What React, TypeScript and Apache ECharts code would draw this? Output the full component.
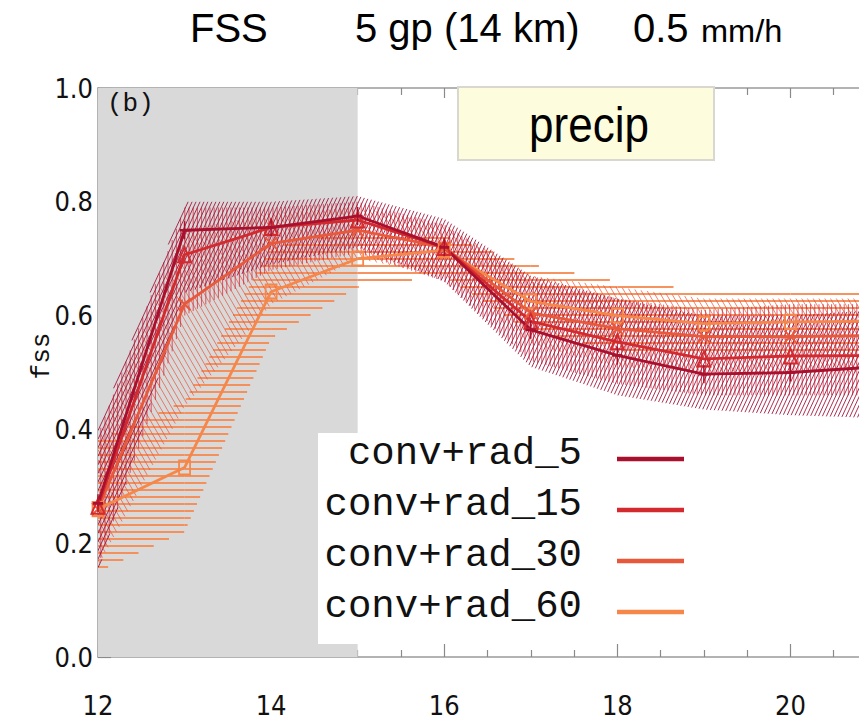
import React, { useEffect, useRef } from "react";
import * as echarts from "echarts";

// ---- data ----
const hours = [12, 13, 14, 15, 16, 17, 18, 19, 20, 21];
const seriesNames = ["conv+rad_5", "conv+rad_15", "conv+rad_30", "conv+rad_60"];

const rad5 = [0.27, 0.75, 0.755, 0.775, 0.72, 0.575, 0.53, 0.497, 0.5, 0.51];
const rad15 = [0.265, 0.707, 0.755, 0.768, 0.72, 0.59, 0.554, 0.524, 0.529, 0.53];
const rad30 = [0.26, 0.62, 0.727, 0.75, 0.72, 0.605, 0.577, 0.563, 0.563, 0.565];
const rad60 = [0.26, 0.333, 0.642, 0.7, 0.715, 0.625, 0.6, 0.586, 0.589, 0.59];

const rad5Low = [0.15, 0.64, 0.69, 0.72, 0.66, 0.51, 0.46, 0.435, 0.425, 0.42];
const rad5High = [0.4, 0.8, 0.8, 0.81, 0.77, 0.67, 0.63, 0.6, 0.6, 0.61];
const rad15Low = [0.16, 0.6, 0.68, 0.71, 0.66, 0.52, 0.48, 0.46, 0.46, 0.46];
const rad15High = [0.39, 0.79, 0.79, 0.8, 0.76, 0.66, 0.63, 0.61, 0.62, 0.62];
const rad30Low = [0.16, 0.44, 0.62, 0.7, 0.67, 0.55, 0.51, 0.5, 0.5, 0.5];
const rad30High = [0.38, 0.75, 0.78, 0.79, 0.76, 0.67, 0.65, 0.63, 0.63, 0.63];
const rad60Low = [0.15, 0.22, 0.56, 0.65, 0.67, 0.57, 0.54, 0.53, 0.53, 0.53];
const rad60High = [0.38, 0.45, 0.72, 0.75, 0.74, 0.69, 0.66, 0.645, 0.645, 0.645];

const spinupStart = 12;
const spinupEnd = 15;

const xTickInterval = 2;
const yTickInterval = 0.2;

const titleParts = ["FSS", "5 gp (14 km)", "0.5", "mm/h"];
const panelLabel = "(b)";
const boxLabel = "precip";
const yName = "fss";

// ---- styles ----
const colors = ["#a8102e", "#d32a2f", "#e8583a", "#f5874a"];
const hatchColors = [
  "rgba(160,18,58,0.88)",
  "rgba(205,35,55,0.72)",
  "rgba(230,85,60,0.72)",
  "rgba(246,135,78,0.9)",
];
const hatchDirs: number[][] = [
  [0.42, -0.907],
  [0, 1],
  [0.5, 0.866],
  [1, 0],
];
const hatchSpacing = [3.6, 4.2, 5, 7];
const hatchWidth = [1, 1, 1, 1.8];

function clipLine(P0: number[], D: number[], poly: number[][], normals: number[][]) {
  let tE = -1e5,
    tL = 1e5;
  for (let k = 0; k < poly.length; k++) {
    const Pe = poly[k];
    const n = normals[k];
    const num = n[0] * (P0[0] - Pe[0]) + n[1] * (P0[1] - Pe[1]);
    const den = n[0] * D[0] + n[1] * D[1];
    if (Math.abs(den) < 1e-9) {
      if (num < -1e-9) return null;
      continue;
    }
    const t = -num / den;
    if (den > 0) tE = Math.max(tE, t);
    else tL = Math.min(tL, t);
  }
  if (tE >= tL) return null;
  return [P0[0] + tE * D[0], P0[1] + tE * D[1], P0[0] + tL * D[0], P0[1] + tL * D[1]];
}

function hatchPath(poly: number[][], D: number[], s: number) {
  const cx = poly.reduce((a, p) => a + p[0], 0) / poly.length;
  const cy = poly.reduce((a, p) => a + p[1], 0) / poly.length;
  const normals = poly.map((A, k) => {
    const B = poly[(k + 1) % poly.length];
    let n = [-(B[1] - A[1]), B[0] - A[0]];
    if (n[0] * (cx - A[0]) + n[1] * (cy - A[1]) < 0) n = [-n[0], -n[1]];
    return n;
  });
  const N = [-D[1], D[0]];
  const cs = poly.map((p) => N[0] * p[0] + N[1] * p[1]);
  const cMin = Math.min(...cs),
    cMax = Math.max(...cs);
  let d = "";
  for (let k = Math.ceil(cMin / s); k * s <= cMax; k++) {
    const c = k * s;
    const P0 = [c * N[0], c * N[1]];
    const seg = clipLine(P0, D, poly, normals);
    if (seg) d += `M${seg[0].toFixed(1)} ${seg[1].toFixed(1)}L${seg[2].toFixed(1)} ${seg[3].toFixed(1)}`;
  }
  return d;
}

export default function App() {
  const ref = useRef<HTMLDivElement>(null);
  useEffect(() => {
    if (!ref.current) return;
    const chart = echarts.init(ref.current, null, { renderer: "svg" });

    const mains = [rad5, rad15, rad30, rad60];
    const lows = [rad5Low, rad15Low, rad30Low, rad60Low];
    const highs = [rad5High, rad15High, rad30High, rad60High];
    const symbols: any[] = [
      "path://M5,0 L5,20 M0,10 L10,10",
      "triangle",
      "path://M0,0 L10,10 M10,0 L0,10",
      "rect",
    ];
    const symbolSizes: any[] = [[10, 18], [13, 15], [12, 12], [11, 14]];

    const series: any[] = [];
    series.push({
      type: "line",
      data: [],
      z: 0,
      silent: true,
      markArea: {
        silent: true,
        itemStyle: { color: "#d9d9d9" },
        data: [[{ xAxis: spinupStart }, { xAxis: spinupEnd }]],
      },
    });
    for (let i = 3; i >= 0; i--) {
      const data = hours.slice(0, -1).map((h, j) => [
        h,
        lows[i][j],
        highs[i][j],
        hours[j + 1],
        lows[i][j + 1],
        highs[i][j + 1],
      ]);
      series.push({
        type: "custom",
        name: "band" + i,
        z: 1 + (3 - i) * 0.1,
        silent: true,
        clip: true,
        encode: { x: [0, 3], y: [1, 2, 4, 5] },
        data,
        renderItem: (params: any, api: any) => {
          const a0 = api.coord([api.value(0), api.value(2)]);
          const a1 = api.coord([api.value(3), api.value(5)]);
          const b1 = api.coord([api.value(3), api.value(4)]);
          const b0 = api.coord([api.value(0), api.value(1)]);
          const d = hatchPath([a0, a1, b1, b0], hatchDirs[i], hatchSpacing[i]);
          return {
            type: "path",
            shape: { pathData: d || "M0 0" },
            style: { stroke: hatchColors[i], lineWidth: hatchWidth[i], fill: null },
          };
        },
      });
    }
    for (let i = 3; i >= 0; i--) {
      series.push({
        type: "line",
        name: seriesNames[i],
        z: 3,
        symbol: symbols[i],
        symbolSize: symbolSizes[i],
        showAllSymbol: true,
        lineStyle: { color: colors[i], width: 2.8 },
        itemStyle: {
          color: "rgba(0,0,0,0)",
          borderColor: colors[i],
          borderWidth: 2,
        },
        data: hours.map((h, j) => [h, mains[i][j]]),
      });
    }

    const tickFont = "'DejaVu Sans Condensed', 'DejaVu Sans Mono', monospace";
    const axisCommon = {
      axisLine: { show: true, lineStyle: { color: "#9a9a9a", width: 1.5 } },
      axisTick: { show: true, inside: true, length: 13, lineStyle: { color: "#8a8a8a", width: 1.2 } },
      minorTick: { show: true, splitNumber: 4, length: 7, lineStyle: { color: "#8a8a8a", width: 1.2 } },
      splitLine: { show: false },
      minorSplitLine: { show: false },
    };

    const rowH = 51;
    const legendChildren: any[] = [
      {
        type: "rect",
        z: 60,
        shape: { x: 318, y: 433, width: 398, height: 211 },
        style: { fill: "#ffffff" },
      },
    ];
    seriesNames.forEach((n, i) => {
      legendChildren.push({
        type: "text",
        z: 61,
        x: 582,
        y: 473 + i * rowH,
        style: {
          text: n,
          font: "39px 'Liberation Mono', monospace",
          fill: "#111",
          textAlign: "right",
          textVerticalAlign: "bottom",
        },
      });
      legendChildren.push({
        type: "line",
        z: 61,
        shape: { x1: 617, y1: 459 + i * rowH, x2: 684, y2: 459 + i * rowH },
        style: { stroke: colors[i], lineWidth: 4.5 },
      });
    });

    const titleFont = "40px 'Liberation Sans', Arial, sans-serif";
    chart.setOption({
      animation: false,
      backgroundColor: "#ffffff",
      grid: { left: 98, top: 88, right: 0, bottom: 63, containLabel: false },
      xAxis: [
        {
          type: "value",
          min: 12,
          max: 21,
          interval: xTickInterval,
          ...axisCommon,
          axisLabel: {
            margin: 35,
            fontSize: 27,
            fontFamily: tickFont,
            color: "#111",
            showMaxLabel: false,
          },
        },
        {
          type: "value",
          position: "top",
          min: 12,
          max: 21,
          interval: xTickInterval,
          ...axisCommon,
          axisTick: { ...axisCommon.axisTick, length: 10 },
          axisLabel: { show: false },
        },
      ],
      yAxis: {
        type: "value",
        min: 0,
        max: 1,
        interval: yTickInterval,
        ...axisCommon,
        axisLabel: {
          margin: 5,
          fontSize: 27,
          fontFamily: tickFont,
          color: "#111",
          formatter: (v: number) => v.toFixed(1),
        },
      },
      series,
      graphic: [
        { type: "text", x: 190, y: 48, style: { text: titleParts[0], font: titleFont, fill: "#000", textVerticalAlign: "bottom" } },
        { type: "text", x: 355, y: 48, style: { text: titleParts[1], font: titleFont, fill: "#000", textVerticalAlign: "bottom" } },
        { type: "text", x: 633, y: 48, style: { text: titleParts[2], font: titleFont, fill: "#000", textVerticalAlign: "bottom" } },
        {
          type: "text",
          x: 701,
          y: 47,
          scaleX: 1.05,
          style: { text: titleParts[3], font: "31px 'Liberation Sans', Arial, sans-serif", fill: "#000", textVerticalAlign: "bottom" },
        },
        {
          type: "text",
          x: 107,
          y: 104,
          z: 50,
          style: { text: panelLabel, font: "26px 'Liberation Mono', monospace", fill: "#111", textVerticalAlign: "middle" },
        },
        {
          type: "text",
          x: 42,
          y: 356,
          rotation: Math.PI / 2,
          style: {
            text: yName,
            font: "26px 'Liberation Mono', monospace",
            fill: "#111",
            textAlign: "center",
            textVerticalAlign: "middle",
          },
        },
        {
          type: "rect",
          z: 50,
          shape: { x: 458, y: 87, width: 256, height: 73 },
          style: { fill: "#fdfcdc", stroke: "#d8d8d0", lineWidth: 2 },
        },
        {
          type: "text",
          z: 51,
          x: 589,
          y: 124,
          scaleX: 0.88,
          style: {
            text: boxLabel,
            font: "50px 'Liberation Sans', Arial, sans-serif",
            fill: "#000",
            textAlign: "center",
            textVerticalAlign: "middle",
          },
        },
        ...legendChildren,
      ],
    });
    return () => chart.dispose();
  }, []);
  return (
    <div
      style={{
        position: "fixed",
        left: 0,
        top: 0,
        width: 859,
        height: 720,
        overflow: "hidden",
        background: "#fff",
      }}
    >
      <div ref={ref} style={{ width: 877, height: 720 }} />
    </div>
  );
}
